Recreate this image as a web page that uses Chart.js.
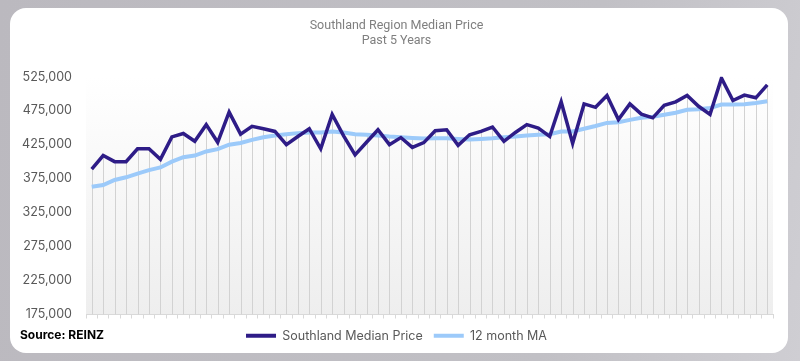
<!DOCTYPE html>
<html>
<head>
<meta charset="utf-8">
<script src="https://cdn.jsdelivr.net/npm/chart.js@4.4.1/dist/chart.umd.min.js"></script>
<style>
    html, body {
        margin: 0;
        padding: 0;
        width: 800px;
        height: 361px;
        overflow: hidden;
        background: linear-gradient(100deg, #bbb9bf 0%, #c1c0c5 70%, #cfced3 100%);
    }
    .card {
        position: absolute;
        left: 10px;
        top: 8px;
        width: 778px;
        height: 345px;
        background: #ffffff;
        border-radius: 16px;
    }
    .source {
        position: absolute;
        left: 20px;
        top: 327px;
        font-family: Inter, 'Open Sans', sans-serif;
        font-weight: 700;
        font-size: 12px;
        color: #000000;
    }
    .chart-box {
        position: absolute;
        left: 0;
        top: 0;
        width: 800px;
        height: 361px;
    }
</style>
</head>
<body>
<div class="card"></div>
<div class="chart-box"><canvas id="priceChart"></canvas></div>
<div class="source">Source: REINZ</div>

<script>
// Monthly categories (5 years)
const months = [
    'Jan-19', 'Feb-19', 'Mar-19', 'Apr-19', 'May-19', 'Jun-19', 'Jul-19', 'Aug-19', 'Sep-19', 'Oct-19', 'Nov-19', 'Dec-19',
    'Jan-20', 'Feb-20', 'Mar-20', 'Apr-20', 'May-20', 'Jun-20', 'Jul-20', 'Aug-20', 'Sep-20', 'Oct-20', 'Nov-20', 'Dec-20',
    'Jan-21', 'Feb-21', 'Mar-21', 'Apr-21', 'May-21', 'Jun-21', 'Jul-21', 'Aug-21', 'Sep-21', 'Oct-21', 'Nov-21', 'Dec-21',
    'Jan-22', 'Feb-22', 'Mar-22', 'Apr-22', 'May-22', 'Jun-22', 'Jul-22', 'Aug-22', 'Sep-22', 'Oct-22', 'Nov-22', 'Dec-22',
    'Jan-23', 'Feb-23', 'Mar-23', 'Apr-23', 'May-23', 'Jun-23', 'Jul-23', 'Aug-23', 'Sep-23', 'Oct-23', 'Nov-23', 'Dec-23'
];

// Southland median price
const medianPrice = [
    389000, 409000, 400000, 400000, 419000, 419000, 403500, 436500, 441500, 430000,
    454500, 428500, 473000, 440500, 452000, 448500, 444500, 425000, 437000, 448500,
    419000, 469500, 438000, 410000, 428500, 447000, 425000, 435500, 421000, 428000,
    445500, 447000, 424000, 439500, 444500, 451000, 430000, 443000, 454500, 449500,
    437000, 488000, 427000, 485000, 480000, 497500, 462000, 485000, 470000, 464500,
    483000, 488000, 497500, 481500, 469500, 523000, 490000, 498000, 494000, 513000
];

// 12 month moving average
const movingAvg = [
    363000, 365500, 373000, 377000, 382500, 387500, 391500, 400000, 406500, 409000,
    415000, 418500, 425000, 427500, 432000, 436000, 438500, 440500, 442000, 443000,
    443000, 444500, 443000, 440500, 439500, 438500, 437000, 436000, 435000, 434000,
    434500, 434500, 433500, 432500, 433500, 434500, 436000, 437000, 438500, 439500,
    440500, 444500, 444500, 448500, 452500, 457000, 458000, 461500, 464500, 466000,
    469000, 472000, 476500, 477000, 479000, 484000, 484000, 484500, 486500, 489000
];

// Y axis range
const yMin = 175000;
const yMax = 525000;
const yStep = 50000;

// Plot area gradient background
const plotBackground = {
    id: 'plotBackground',
    beforeDraw(chart) {
        const { ctx, chartArea } = chart;
        if (!chartArea) return;
        const grad = ctx.createLinearGradient(0, chartArea.top, 0, chartArea.bottom);
        grad.addColorStop(0, '#ffffff');
        grad.addColorStop(1, '#eeeeee');
        ctx.save();
        ctx.fillStyle = grad;
        ctx.fillRect(chartArea.left, chartArea.top, chartArea.right - chartArea.left, chartArea.bottom - chartArea.top);
        ctx.restore();
    }
};

// Vertical drop lines from each point down to the axis
const dropLines = {
    id: 'dropLines',
    beforeDatasetsDraw(chart) {
        const { ctx, chartArea } = chart;
        const metaA = chart.getDatasetMeta(0).data;
        const metaB = chart.getDatasetMeta(1).data;
        ctx.save();
        ctx.strokeStyle = '#d2d2d2';
        ctx.lineWidth = 1;
        metaA.forEach((pt, i) => {
            const top = Math.min(pt.y, metaB[i] ? metaB[i].y : pt.y);
            const x = Math.round(pt.x) + 0.5;
            ctx.beginPath();
            ctx.moveTo(x, chartArea.bottom);
            ctx.lineTo(x, top);
            ctx.stroke();
        });
        ctx.restore();
    }
};

function initializePriceChart() {
    const ctx = document.getElementById('priceChart');
    if (!ctx) return;

    const chart = new Chart(ctx, {
        type: 'line',
        data: {
            labels: months,
            datasets: [{
                label: 'Southland Median Price',
                data: medianPrice,
                borderColor: '#2e1c87',
                backgroundColor: '#2e1c87',
                borderWidth: 3.5,
                pointRadius: 0,
                tension: 0
            }, {
                label: '12 month MA',
                data: movingAvg,
                borderColor: '#9ccafa',
                backgroundColor: '#9ccafa',
                borderWidth: 4,
                pointRadius: 0,
                tension: 0
            }]
        },
        options: {
            responsive: true,
            maintainAspectRatio: false,
            animation: false,
            layout: {
                padding: { left: 20, right: 27, top: 8, bottom: 9 }
            },
            scales: {
                x: {
                    type: 'category',
                    offset: true,
                    grid: {
                        offset: true,
                        drawOnChartArea: false,
                        drawTicks: true,
                        tickLength: 4,
                        color: '#d9d9d9'
                    },
                    border: { color: '#d9d9d9' },
                    ticks: { display: false }
                },
                y: {
                    min: yMin,
                    max: yMax,
                    grid: { display: false, drawTicks: false },
                    border: { display: false },
                    afterFit: scale => { scale.width = 66; },
                    ticks: {
                        stepSize: yStep,
                        padding: 14,
                        color: '#595959',
                        font: { family: 'Inter', size: 12.5 },
                        callback: value => formatNumber(value)
                    }
                }
            },
            plugins: {
                title: {
                    display: true,
                    text: ['Southland Region Median Price', 'Past 5 Years'],
                    color: '#7f7f7f',
                    font: { family: "'Liberation Sans Narrow', Roboto", size: 12.5, weight: 'normal', lineHeight: 1.15 },
                    padding: { top: 11, bottom: 29 }
                },
                legend: {
                    position: 'bottom',
                    labels: {
                        boxWidth: 30,
                        boxHeight: 4,
                        padding: 11,
                        color: '#595959',
                        font: { family: 'Inter', size: 12.5 },
                        generateLabels(chart) {
                            const items = Chart.defaults.plugins.legend.labels.generateLabels(chart);
                            items.forEach(item => { item.lineWidth = 0; });
                            return items;
                        }
                    }
                },
                tooltip: { enabled: false }
            }
        },
        plugins: [plotBackground, dropLines]
    });
}

// Format number with commas
function formatNumber(num) {
    return num.toString().replace(/\B(?=(\d{3})+(?!\d))/g, ",");
}

initializePriceChart();
</script>
</body>
</html>
